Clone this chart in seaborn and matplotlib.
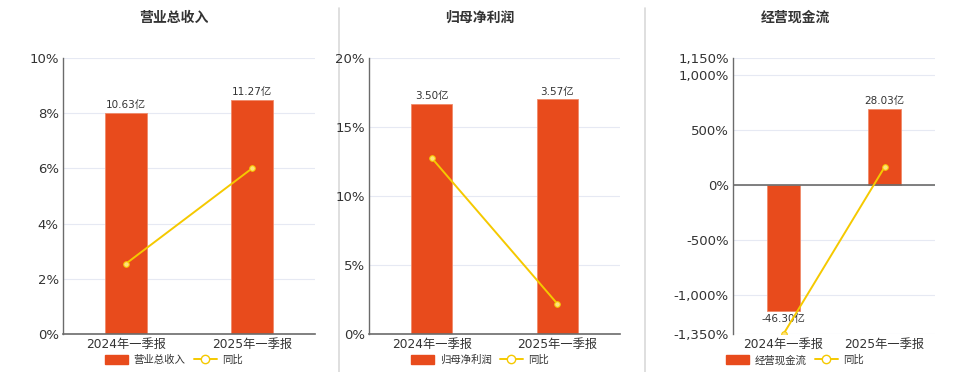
import numpy as np
import matplotlib
matplotlib.use("Agg")
import matplotlib.pyplot as plt
import seaborn as sns
from matplotlib.lines import Line2D
from matplotlib.patches import Patch
from matplotlib.ticker import FuncFormatter

# --------------------------
# data
# --------------------------
periods = ["2024年一季报", "2025年一季报"]

revenue = [10.63, 11.27]          # 营业总收入, 亿
revenue_yoy = [2.55, 6.0]         # %
profit = [3.50, 3.57]             # 归母净利润, 亿
profit_yoy = [12.75, 2.2]         # %
cashflow = [-46.30, 28.03]        # 经营现金流, 亿
cashflow_yoy = [-1350, 160.5]     # %

titles = ["营业总收入", "归母净利润", "经营现金流"]
pct_ticks = [[0, 2, 4, 6, 8, 10],
             [0, 5, 10, 15, 20],
             [-1350, -1000, -500, 0, 500, 1000, 1150]]

# --------------------------
# style
# --------------------------
sns.set_theme(style="white")
plt.rcParams['font.family'] = ['DejaVu Sans', 'Noto Sans CJK SC']
plt.rcParams['axes.unicode_minus'] = False

BAR = "#e84b1c"
LINE = "#f5c900"
GRID = "#e6e9f3"
AXC = "#6b6b6b"
TXT = "#333333"

fig = plt.figure(figsize=(9.6, 3.72), dpi=100)

panels = [
    dict(vals=revenue, yoy=revenue_yoy, pct=(0, 10), bar=(0, 13.29),
         rect=[63, 315], cx=174),
    dict(vals=profit, yoy=profit_yoy, pct=(0, 20), bar=(0, 4.2),
         rect=[369, 620], cx=480),
    dict(vals=cashflow, yoy=cashflow_yoy, pct=(-1350, 1150), bar=(-54.8, 46.7),
         rect=[733, 935], cx=795),
]

top_px, bot_px = 58, 334
W, H = 960, 372

# separators between panels (drawn under everything)
for x in [339, 645]:
    fig.add_artist(Line2D([x / W, x / W], [0, 1 - 8 / H], color="#d9d9d9",
                          linewidth=1.2, zorder=-5))

for i, p in enumerate(panels):
    left = p["rect"][0] / W
    width = (p["rect"][1] - p["rect"][0]) / W
    ax = fig.add_axes([left, 1 - bot_px / H, width, (bot_px - top_px) / H])
    ax.patch.set_alpha(0)

    # bars on the primary axis (hidden scale)
    sns.barplot(x=periods, y=p["vals"], ax=ax, color=BAR, saturation=1,
                width=0.33, edgecolor="#f08a6a", linewidth=0.6)
    ax.set_ylim(*p["bar"])
    ax.set_xlim(-0.5, 1.5)
    labels = [f"{v:.2f}亿" for v in p["vals"]]
    ax.bar_label(ax.containers[0], labels=labels, padding=2, fontsize=7.5,
                 color=TXT)

    # grid lines placed at the percentage ticks
    p0, p1 = p["pct"]
    b0, b1 = p["bar"]
    ticks = np.array(pct_ticks[i], dtype=float)
    ax.set_yticks(b0 + (ticks - p0) / (p1 - p0) * (b1 - b0))
    ax.set_yticklabels([])
    ax.tick_params(axis="y", length=0)
    ax.yaxis.grid(True, color=GRID, linewidth=0.8)
    ax.set_axisbelow(True)

    ax.tick_params(axis="x", labelsize=8.8, colors=TXT, length=0, pad=3)
    for s in ["top", "right", "left"]:
        ax.spines[s].set_visible(False)
    if p0 < 0:
        ax.spines["bottom"].set_visible(False)
        ax.axhline(0, color=AXC, linewidth=1.2)
    else:
        ax.spines["bottom"].set_color(AXC)
        ax.spines["bottom"].set_linewidth(1.2)
    ax.set_xlabel("")
    ax.set_ylabel("")

    # yoy line on twin axis, shown on the left
    ax2 = ax.twinx()
    sns.lineplot(x=np.arange(len(periods)), y=p["yoy"], ax=ax2, color=LINE,
                 linewidth=1.4, marker="o", markersize=4,
                 markerfacecolor="#ffe27a", markeredgecolor=LINE)
    ax2.set_ylim(p0, p1)
    ax2.set_xlim(-0.5, 1.5)
    ax2.set_yticks(pct_ticks[i])
    ax2.yaxis.set_major_formatter(FuncFormatter(lambda v, _: f"{v:,.0f}%"))
    ax2.yaxis.tick_left()
    ax2.tick_params(axis="y", labelsize=9.5, colors=TXT, length=0, pad=3)
    for s in ["top", "right", "bottom"]:
        ax2.spines[s].set_visible(False)
    ax2.spines["left"].set_color(AXC)
    ax2.spines["left"].set_linewidth(1.0)
    ax2.set_xlabel("")
    ax2.set_ylabel("")

    # title and legend
    fig.text(p["cx"] / W, 1 - 18 / H, titles[i], ha="center", va="center",
             fontsize=10, fontweight="bold", color=TXT)
    handles = [Patch(facecolor=BAR, edgecolor=BAR),
               Line2D([0], [0], color=LINE, linewidth=1.4, marker="o",
                      markersize=6, markerfacecolor="white",
                      markeredgecolor=LINE)]
    fig.legend(handles, [titles[i], "同比"], loc="center",
               bbox_to_anchor=(p["cx"] / W, 1 - 360 / H), ncol=2,
               frameon=False, fontsize=7.5, handlelength=2.2,
               handleheight=1.0, columnspacing=0.8, handletextpad=0.5,
               labelcolor=TXT)

fig.savefig("out.png", dpi=100, facecolor="white")
